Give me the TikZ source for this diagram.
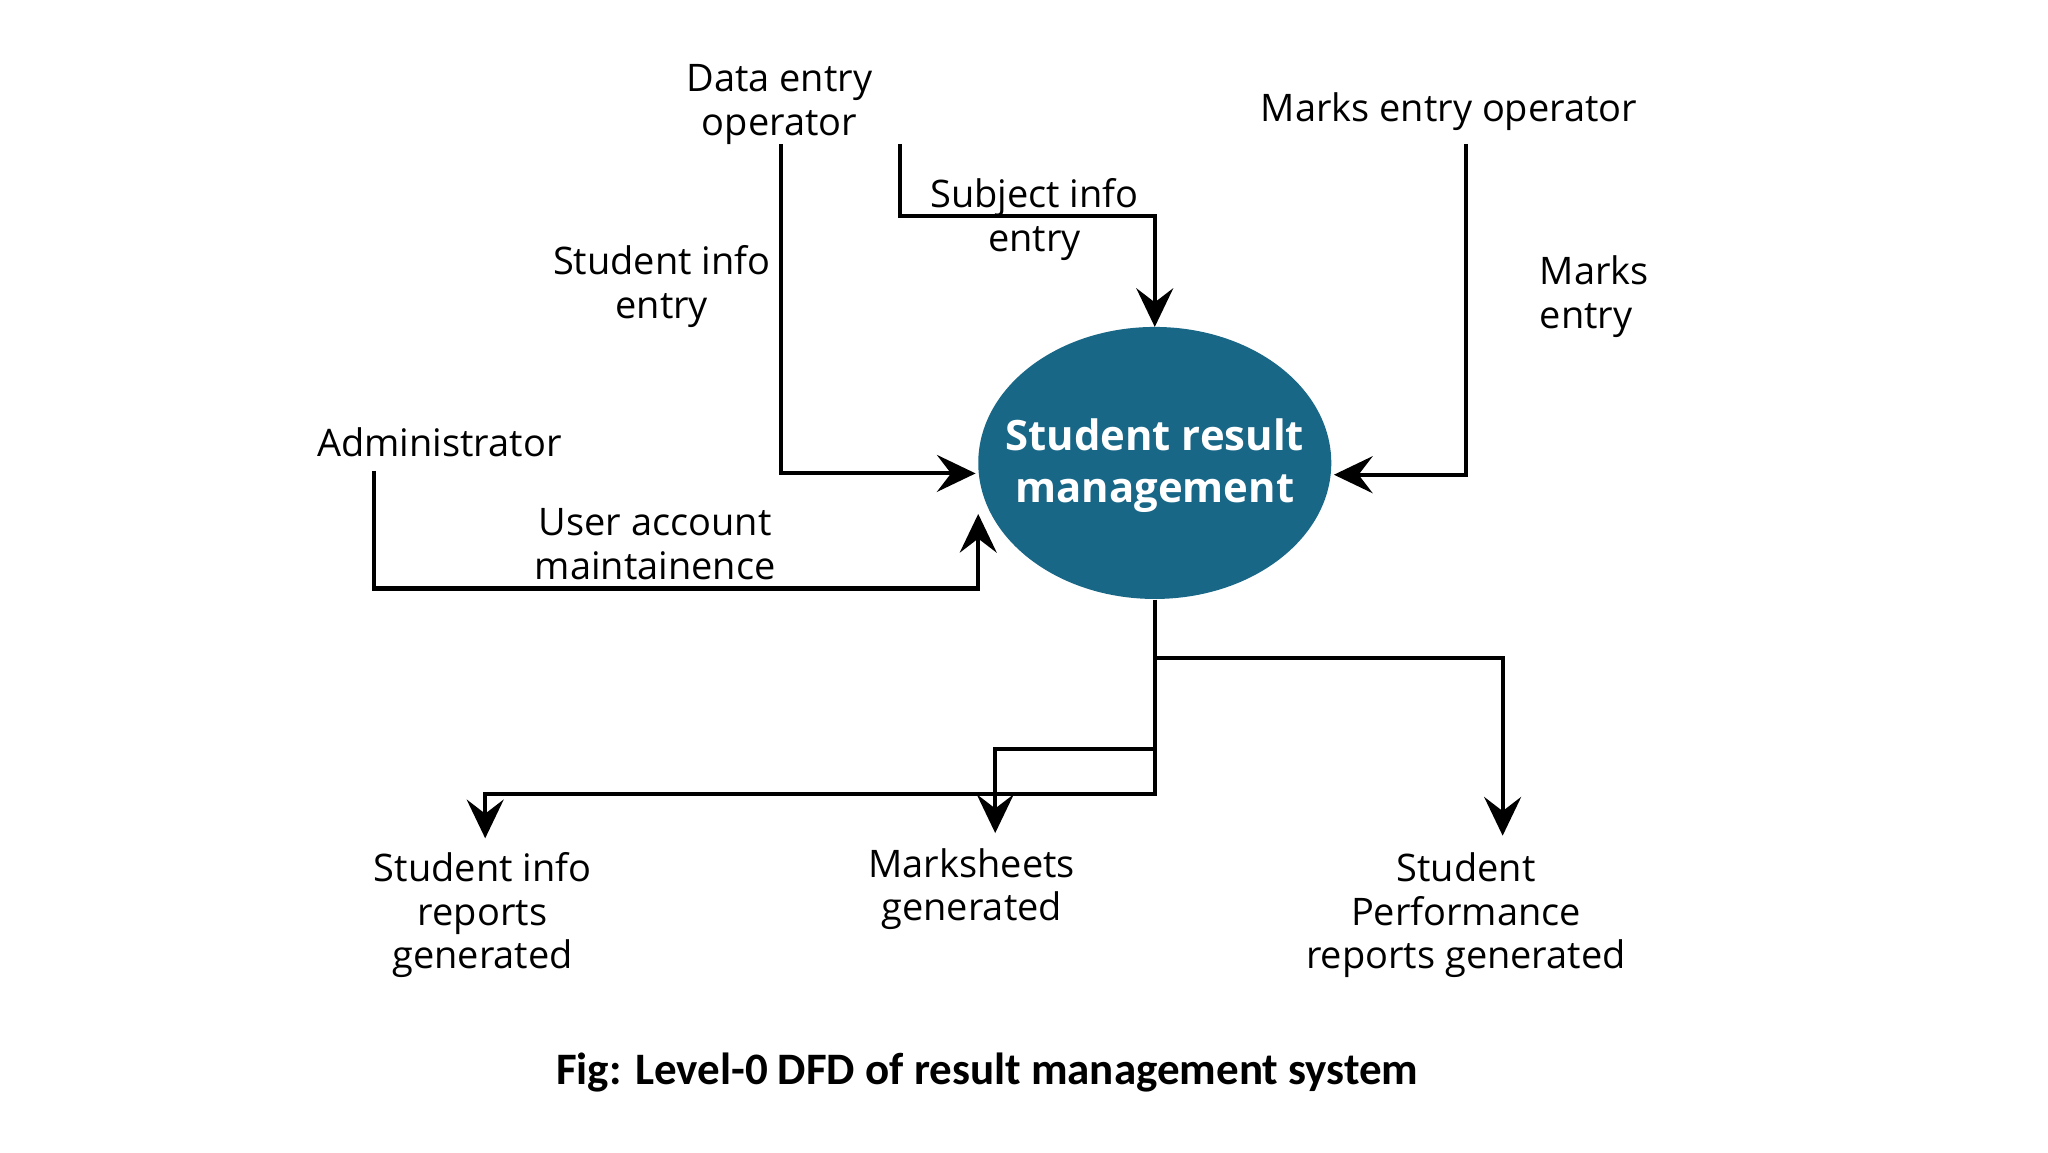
\documentclass[tikz,border=0pt]{standalone}
\usepackage{fontspec}
\setmainfont{Open Sans}
\newfontfamily\capfont{Carlito}
\usetikzlibrary{arrows.meta,shapes.geometric}
\definecolor{procfill}{RGB}{24,103,135}
\begin{document}
\begin{tikzpicture}[x=0.013078cm,y=-0.013078cm,
  lbl/.style={align=center,font=\fontsize{10.8}{12.4}\selectfont,inner sep=0pt},
  flow/.style={line width=1.15pt,-{Stealth[length=11pt,width=10.5pt,inset=4pt]}},
  plain/.style={line width=1.15pt},
  proc/.style={ellipse,fill=procfill,minimum width=3.53cm,minimum height=2.72cm,inner sep=0pt},
  proctext/.style={text=white,align=center,inner sep=0pt,font=\bfseries\fontsize{11.9}{14.6}\selectfont}]
\useasboundingbox (0,0) rectangle (1566,880.9);
\node[proc] (srm) at (883,354) {};
\node[proctext] (srmt) at (883,356) {Student result\\management};
% external entities
\node[lbl] (deo) at (596,80) {Data entry\\operator};
\node[lbl] (meo) at (1108,85) {Marks entry operator};
\node[lbl] (adm) at (336,338) {Administrator};
\node[lbl] (sirg) at (369,700) {Student info\\reports\\generated};
\node[lbl] (msg) at (743,680) {Marksheets\\generated};
\node[lbl] (sprg) at (1121,700) {Student\\Performance\\reports generated};
% flow labels
\node[lbl] (l1) at (506,219) {Student info\\entry};
\node[lbl] (l2) at (791,168) {Subject info\\entry};
\node[lbl,align=left,anchor=west] (l3) at (1177,227) {Marks\\entry};
\node[lbl] (l4) at (501,416) {User account\\maintainence};
\node[font=\capfont\bfseries\fontsize{12.8}{15}\selectfont,inner sep=0pt] (cap) at (755,820) {Fig: Level-0 DFD of result management system};
% connector points
\coordinate (d1) at (597,110);
\coordinate (d2) at (688,110);
\coordinate (m1) at (1121,110);
\coordinate (a1) at (286,360);
\coordinate (e1) at (746,362);
\coordinate (e2) at (883,250);
\coordinate (e3) at (1020,363);
\coordinate (e4) at (748,393);
\coordinate (j1) at (883,503);
\coordinate (j2) at (883,573);
\coordinate (o1) at (371,641);
\coordinate (o2) at (761,637);
\coordinate (o3) at (1149,639);
% flows
\draw[flow] (d1) |- (e1);
\draw[flow] (d2) |- (791,165) -| (e2);
\draw[flow] (m1) |- (e3);
\draw[flow] (a1) |- (748,450) -- (e4);
\draw[plain] (srm.south) -- (j1);
\draw[flow] (j1) -| (o3);
\draw[flow] (j1) -- (883,607) -| (o1);
\draw[flow] (j2) -| (o2);
\end{tikzpicture}
\end{document}
